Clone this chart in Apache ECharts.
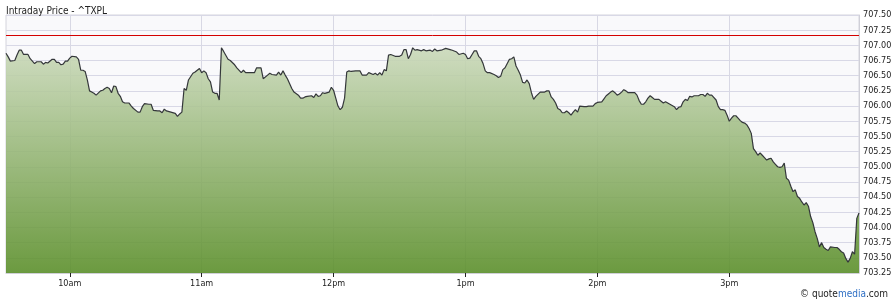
<!DOCTYPE html>
<html>
<head>
<meta charset="utf-8">
<script src="https://cdn.jsdelivr.net/npm/echarts@6/dist/echarts.min.js"></script>
<style>
html,body{margin:0;padding:0;background:#fff;}
#chart{width:896px;height:305px;}
</style>
</head>
<body>
<div id="chart"></div>
<script>
// minutes after 9:30
var times = [1,2,3,5,6,7,8,9,11,12,14,15,17,18,19,20,22,23,24,25,26,27,28,29,30,31,33,34,35,36,37,38,39,40,41,42,44,45,46,47,48,49,50,51,52,53,54,55,57,58,59,61,62,63,64,66,
67,68,70,71,72,73,74,76,78,79,80,81,82,83,84,86,87,89,90,91,92,93,94,95,96,97,98,99,100,102,103,105,106,108,109,110,112,114,115,117,118,120,121,122,124,125,126,127,128,129,131,132,
134,135,136,137,138,140,141,142,143,144,145,146,148,149,150,151,152,153,154,155,156,157,158,160,162,163,165,166,168,169,170,171,172,173,174,175,176,178,180,181,182,183,184,185,186,187,188,190,191,192,194,195,196,197,
199,201,203,204,206,207,209,210,211,212,213,214,215,216,217,218,219,220,221,223,224,225,226,227,228,229,230,231,232,233,234,235,236,237,238,239,240,241,242,244,245,246,247,248,249,250,251,252,253,254,255,256,257,258,259,260,261,262,264,
265,266,268,269,270,272,273,274,275,276,277,278,279,280,281,282,283,284,286,287,288,289,290,291,292,293,294,295,296,298,299,300,301,303,304,305,306,307,308,309,310,311,312,313,314,316,317,318,319,320,321,322,324,325,326,327,328,
329,330,331,332,333,334,335,336,337,338,339,340,341,342,343,344,345,346,347,348,349,350,351,352,353,354,355,356,357,358,359,360,361,362,363,364,365,366,367,368,369,370,371,372,373,374,375,376,378,379,380,381,382,383,384,385,386,387,388,389];
var prices = [706.87,706.81,706.74,706.75,706.84,706.92,706.92,706.85,706.85,706.78,706.70,706.73,706.73,706.69,706.72,706.71,706.77,706.77,706.72,706.72,706.68,706.69,706.74,706.74,706.79,706.82,706.81,706.77,706.59,706.59,706.57,706.43,706.25,706.23,706.21,706.18,706.25,706.26,706.29,706.31,706.29,706.22,706.33,706.32,706.21,706.16,706.07,706.05,706.05,706.00,705.96,705.90,705.90,705.99,706.04,706.03,
706.03,705.93,705.92,705.92,705.89,705.95,705.92,705.90,705.88,705.83,705.87,705.90,706.29,706.26,706.43,706.54,706.56,706.62,706.55,706.58,706.55,706.45,706.40,706.23,706.21,706.21,706.10,706.96,706.90,706.77,706.75,706.68,706.63,706.55,706.59,706.55,706.55,706.55,706.63,706.63,706.45,706.51,706.54,706.52,706.51,706.56,706.51,706.58,706.51,706.45,706.29,706.23,
706.18,706.13,706.13,706.15,706.16,706.17,706.14,706.20,706.16,706.17,706.22,706.21,706.23,706.31,706.26,706.13,706.00,705.94,705.98,706.13,706.56,706.58,706.57,706.58,706.58,706.51,706.51,706.55,706.52,706.54,706.51,706.55,706.51,706.60,706.58,706.84,706.85,706.82,706.82,706.84,706.93,706.93,706.78,706.85,706.96,706.92,706.93,706.91,706.93,706.91,706.92,706.90,706.94,706.91,
706.92,706.95,706.93,706.92,706.89,706.85,706.87,706.85,706.78,706.79,706.85,706.91,706.91,706.82,706.78,706.70,706.58,706.55,706.55,706.52,706.50,706.47,706.49,706.60,706.63,706.70,706.77,706.78,706.81,706.66,706.59,706.51,706.39,706.38,706.43,706.37,706.22,706.11,706.16,706.23,706.23,706.23,706.25,706.25,706.15,706.11,706.05,705.96,705.94,705.89,705.89,705.92,705.89,705.85,705.90,705.94,705.90,706.00,705.99,
705.99,706.00,706.00,706.04,706.06,706.07,706.12,706.17,706.20,706.23,706.25,706.22,706.18,706.20,706.23,706.27,706.25,706.22,706.22,706.22,706.18,706.09,706.03,706.03,706.07,706.13,706.17,706.14,706.11,706.11,706.08,706.05,706.07,706.03,706.01,705.99,705.94,705.98,705.99,706.07,706.11,706.09,706.16,706.15,706.17,706.17,706.19,706.19,706.16,706.21,706.18,706.18,706.10,705.99,705.94,705.94,705.93,
705.85,705.75,705.80,705.84,705.84,705.80,705.76,705.73,705.72,705.69,705.63,705.55,705.30,705.25,705.19,705.23,705.19,705.15,705.11,705.13,705.14,705.08,705.04,705.00,704.99,705.00,705.06,704.81,704.78,704.68,704.59,704.62,704.51,704.48,704.42,704.37,704.41,704.35,704.18,704.08,703.93,703.82,703.68,703.75,703.67,703.64,703.62,703.68,703.67,703.67,703.64,703.60,703.58,703.49,703.43,703.49,703.60,703.56,704.15,704.24];
var prevClose = 707.16;
var hourTicks = [30, 90, 150, 210, 270, 330];
var hourLabels = ['10am', '11am', '12pm', '1pm', '2pm', '3pm'];
var yMin = 703.25, yMax = 707.5, yStep = 0.25;

var data = times.map(function (t, i) { return [t, prices[i]]; });
var FONT = "'DejaVu Sans Condensed', 'Liberation Sans', Arial, sans-serif";

var chart = echarts.init(document.getElementById('chart'), null, {renderer: 'canvas'});
chart.setOption({
  animation: false,
  backgroundColor: '#ffffff',
  title: {
    text: 'Intraday Price - ^TXPL',
    left: 1, top: 1,
    textStyle: {fontSize: 10, fontWeight: 'normal', color: '#222', fontFamily: FONT}
  },
  graphic: [{
    type: 'text',
    right: 8, top: 289,
    style: {
      text: '© {q|quote}{m|media}{q|.com}',
      font: "10px " + FONT,
      fill: '#222',
      rich: {
        q: {fill: '#222', fontSize: 10, fontFamily: FONT},
        m: {fill: '#2f6fc4', fontSize: 10, fontFamily: FONT}
      }
    }
  }],
  grid: {
    left: 6, right: 37, top: 15, bottom: 32,
    show: true, backgroundColor: '#f9f9fb', borderColor: '#d4d4dc', borderWidth: 1
  },
  xAxis: {
    type: 'value',
    min: times[0], max: times[times.length - 1],
    axisLine: {show: true, lineStyle: {color: '#d0d0d8'}},
    axisTick: {show: true, length: 4, lineStyle: {color: '#222'}, customValues: hourTicks},
    axisLabel: {
      customValues: hourTicks, color: '#222', fontSize: 9, fontFamily: FONT, margin: 6,
      formatter: function (v) { var i = hourTicks.indexOf(v); return i >= 0 ? hourLabels[i] : ''; }
    },
    splitLine: {show: true, lineStyle: {color: '#d8d8e4', width: 1}}
  },
  yAxis: {
    type: 'value', position: 'right',
    min: yMin, max: yMax, interval: yStep,
    axisLine: {show: true, lineStyle: {color: '#d0d0d8'}},
    axisTick: {show: false},
    axisLabel: {color: '#222', fontSize: 9, fontFamily: FONT, margin: 4,
      formatter: function (v) { return v.toFixed(2); }},
    splitLine: {show: true, lineStyle: {color: '#d8d8e6', width: 1}}
  },
  series: [{
    type: 'line',
    data: data,
    showSymbol: false,
    symbol: 'none',
    lineStyle: {color: '#34373a', width: 1.2},
    areaStyle: {
      origin: 'start',
      opacity: 1,
      color: new echarts.graphic.LinearGradient(0, 0, 0, 1, [
        {offset: 0, color: 'rgba(201,216,184,0.88)'},
        {offset: 1, color: 'rgba(88,141,38,0.88)'}
      ])
    },
    markLine: {
      silent: true, symbol: 'none', label: {show: false},
      lineStyle: {color: '#d40000', type: 'solid', width: 1, opacity: 1},
      data: [{yAxis: prevClose}]
    }
  }]
});
</script>
</body>
</html>
